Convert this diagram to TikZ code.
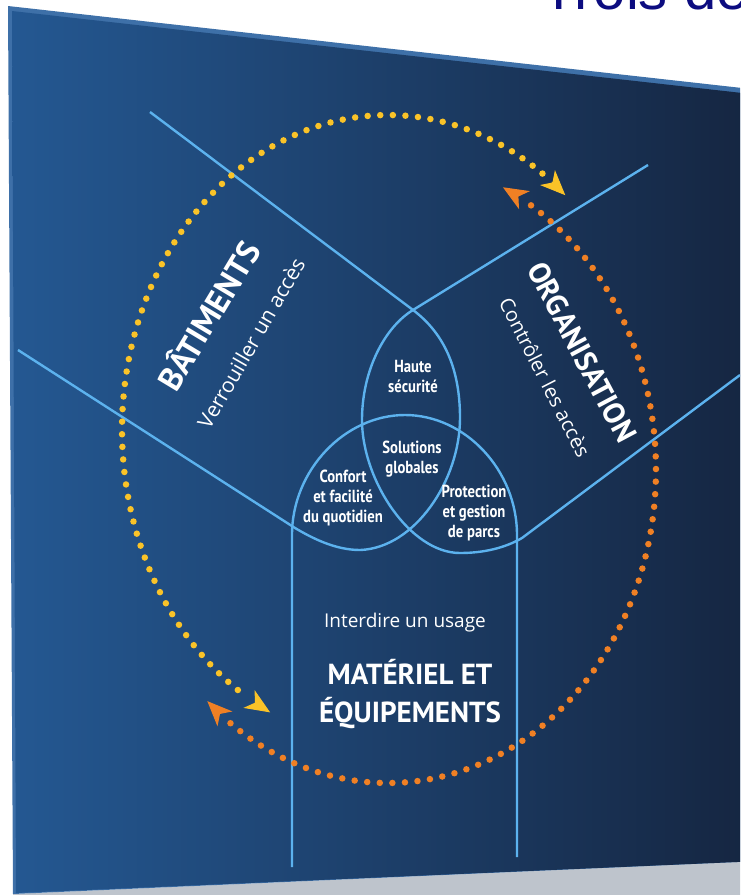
\documentclass[tikz,border=0pt]{standalone}
\usepackage{fontspec}
\setmainfont{Open Sans}
\newfontfamily\dinfont[FakeStretch=0.84]{PT Sans}
\newfontfamily\capsfont{PT Sans}
\newfontfamily\titlefont{Liberation Sans}
\usetikzlibrary{arrows.meta}

\definecolor{boardlight}{RGB}{36,88,146}
\definecolor{boardmid}{RGB}{27,64,110}
\definecolor{boarddark}{RGB}{21,37,64}
\definecolor{boardedge}{RGB}{62,112,168}
\definecolor{vennblue}{RGB}{92,178,238}
\definecolor{dotyellow}{RGB}{250,195,40}
\definecolor{dotorange}{RGB}{240,128,36}
\definecolor{floorgray}{RGB}{190,196,204}
\definecolor{titleblue}{RGB}{12,12,128}

\begin{document}
\begin{tikzpicture}[x=1pt, y=-1pt,
    sectorline/.style={vennblue, line width=2.4pt, line join=round},
    dots/.style={line width=6.5pt, line cap=round, dash pattern=on 0pt off 12.6pt},
    head/.style={line width=1pt, -{Stealth[length=25pt, width=21pt, inset=7pt]}},
    vennlabel/.style={text=white, font=\dinfont\bfseries\fontsize{17.5}{20}\selectfont, align=center, inner sep=0pt},
    sectortitle/.style={text=white, font=\capsfont\bfseries\fontsize{31}{38}\selectfont, align=center, inner sep=0pt},
    sectorverb/.style={text=white, font=\fontsize{19}{19}\selectfont, inner sep=0pt}]
  \useasboundingbox (0,0) rectangle (740,895);
  \clip (0,0) rectangle (740,895);

  % Board and floor
  \fill[floorgray] (13,894) -- (760,861) -- (760,900) -- (13,900) -- cycle;
  \fill[boardedge] (8,6) -- (760,90) -- (760,861) -- (13,894) -- cycle;
  \shade[left color=boardlight, middle color=boardmid, right color=boarddark]
    (12,11) -- (760,95) -- (760,861) -- (16,893) -- cycle;
  \node[anchor=base west, inner sep=0pt, text=titleblue,
    font=\titlefont\fontsize{58}{58}\selectfont] (title) at (541,9) {Trois de};

  % Sector lines
  \coordinate (top) at (413,310);
  \coordinate (batA) at (150,112);
  \coordinate (batC) at (18,350);
  \coordinate (batend) at (295,528);
  \coordinate (orgB) at (648,165);
  \coordinate (orgD) at (740,375);
  \coordinate (orgend) at (522,538);
  \coordinate (matL) at (292,867);
  \coordinate (matR) at (517,857);

  \draw[sectorline] (batA) -- (top)
    .. controls (445,334) and (460,370) .. (460,418)
    .. controls (460,480) and (415,548) .. (360,550)
    .. controls (335,550) and (312,538) .. (batend) -- (batC);
  \draw[sectorline] (orgB) -- (top)
    .. controls (385,327) and (362,370) .. (362,420)
    .. controls (362,480) and (410,553) .. (460,553)
    .. controls (490,553) and (510,545) .. (orgend) -- (orgD);
  \draw[sectorline] (matL) -- (292,535)
    .. controls (292,470) and (345,415) .. (405,415)
    .. controls (465,415) and (517,470) .. (517,535) -- (matR);

  % Dotted arrows
  \draw[dotyellow, dots] plot[domain=54.5:237.5, samples=120, smooth]
    ({388+266*cos(\x)}, {430-315*sin(\x)});
  \draw[dotyellow, head] ({388+266*cos(52)}, {430-315*sin(52)})
    -- ({388+266*cos(48.2)}, {430-315*sin(48.2)});
  \draw[dotyellow, head] ({388+266*cos(240)}, {430-315*sin(240)})
    -- ({388+266*cos(243.7)}, {430-315*sin(243.7)});
  \draw[dotorange, dots] plot[domain=-126:58.5, samples=120, smooth]
    ({388+268*cos(\x)}, {470-313*sin(\x)});
  \draw[dotorange, head] ({388+268*cos(61)}, {470-313*sin(61)})
    -- ({388+268*cos(64.6)}, {470-313*sin(64.6)});
  \draw[dotorange, head] ({388+268*cos(-129)}, {470-313*sin(-129)})
    -- ({388+268*cos(-132.4)}, {470-313*sin(-132.4)});

  % Labels
  \node[vennlabel] (haute) at (413,376) {Haute\\sécurité};
  \node[vennlabel] (solutions) at (412,459) {Solutions\\globales};
  \node[vennlabel] (confort) at (343,498) {Confort\\et facilité\\du quotidien};
  \node[vennlabel] (protection) at (474,513) {Protection\\et gestion\\de parcs};

  \node[sectortitle, font=\capsfont\bfseries\fontsize{33}{33}\selectfont, rotate=59] (batiments) at (207,315) {BÂTIMENTS};
  \node[sectorverb, font=\fontsize{21}{21}\selectfont, rotate=60] (verrouiller) at (251,343) {Verrouiller un accès};
  \node[sectortitle, font=\capsfont\bfseries\fontsize{30}{30}\selectfont, rotate=-62] (organisation) at (582,352) {ORGANISATION};
  \node[sectorverb, font=\fontsize{20}{20}\selectfont, rotate=-63] (controler) at (545,377) {Contrôler les accès};
  \node[sectorverb] (interdire) at (405,623) {Interdire un usage};
  \node[sectortitle, font=\capsfont\bfseries\fontsize{29}{38}\selectfont] (materiel) at (410,694) {MATÉRIEL ET\\ÉQUIPEMENTS};
\end{tikzpicture}
\end{document}
